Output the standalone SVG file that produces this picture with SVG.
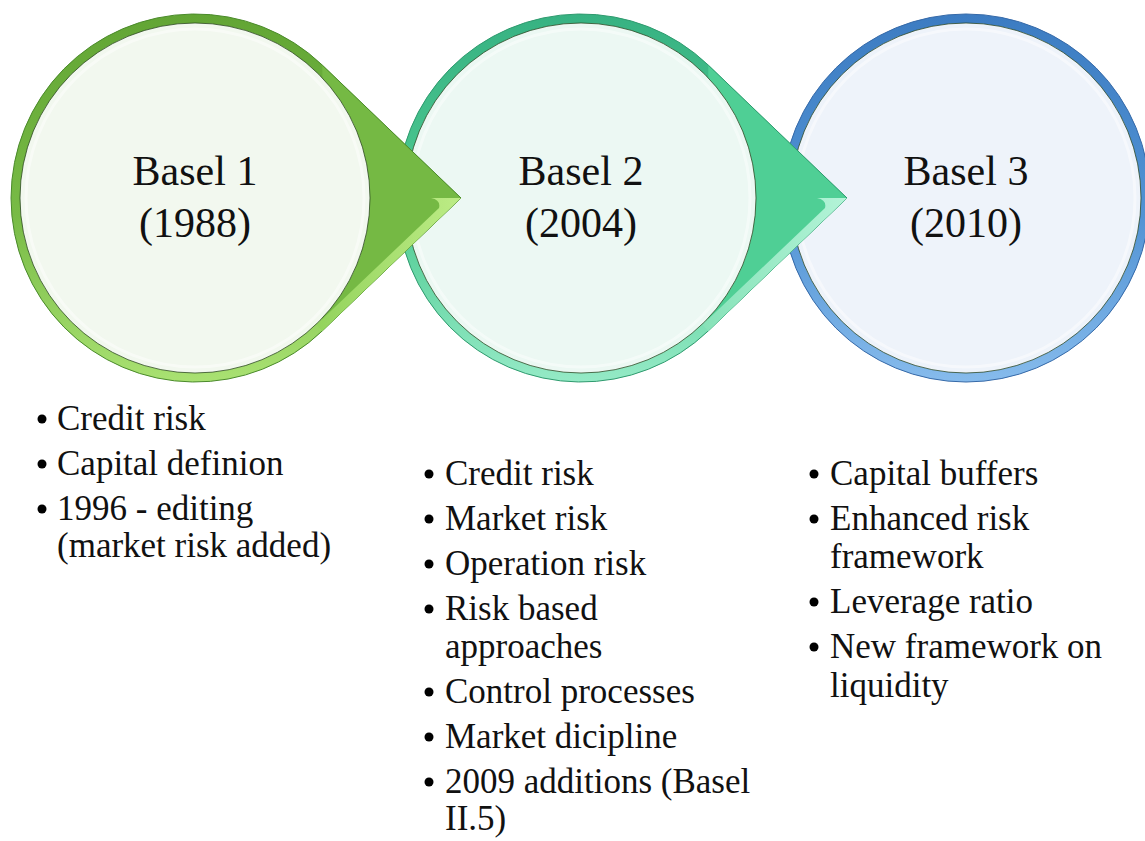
<svg xmlns="http://www.w3.org/2000/svg" width="1145" height="841" viewBox="0 0 1145 841">
<defs>
<linearGradient id="ring1" x1="0" y1="0" x2="0" y2="1"><stop offset="0" stop-color="#62a534"/><stop offset="0.55" stop-color="#78bb46"/><stop offset="1" stop-color="#a9e172"/></linearGradient>
<linearGradient id="ring2" x1="0" y1="0" x2="0" y2="1"><stop offset="0" stop-color="#37b282"/><stop offset="0.55" stop-color="#4fcb93"/><stop offset="1" stop-color="#95eac6"/></linearGradient>
<linearGradient id="ring3" x1="0" y1="0" x2="0" y2="1"><stop offset="0" stop-color="#3c7cc2"/><stop offset="0.55" stop-color="#5293d4"/><stop offset="1" stop-color="#86bbec"/></linearGradient>
<linearGradient id="bev1" x1="0" y1="0" x2="1" y2="0"><stop offset="0" stop-color="#93d35c"/><stop offset="1" stop-color="#bdec86"/></linearGradient>
<linearGradient id="bev2" x1="0" y1="0" x2="1" y2="0"><stop offset="0" stop-color="#86e2b8"/><stop offset="1" stop-color="#b4f4d8"/></linearGradient>
</defs>
<style>
.t{font-family:"Liberation Serif","Times New Roman",serif;fill:#111}
.title{font-size:42px;text-anchor:middle}
.b{font-size:35px}
.inner{stroke:#24401a;stroke-opacity:0.75;stroke-width:1}
.hl{fill:none;stroke:#ffffff;stroke-opacity:0.45;stroke-width:3}
.dot{fill:#000}
</style>

<g id="node-basel3">
<circle cx="966" cy="198" r="184" fill="url(#ring3)" stroke="#3569a8" stroke-width="1"/>
<circle class="inner" cx="966" cy="198" r="175" fill="#eef3fa"/>
<circle class="hl" cx="966" cy="198" r="169"/>
<text class="t title" x="966" y="185">Basel 3</text>
<text class="t title" x="966" y="237">(2010)</text>
</g>

<g id="node-basel2">
<path d="M847 198 L708.3 65.1 A184 184 0 1 0 708.3 330.9 Z" fill="url(#ring2)"/>
<polygon points="847,198 708.3,65.1 708.3,330.9" fill="#4fcf95"/>
<path d="M847 198 L708.3 65.1 A184 184 0 1 0 708.3 330.9 Z" fill="none" stroke="#2e9a6e" stroke-width="1"/>
<path d="M847 198 L817 198 Q827 200 825 208 L702.4 324.7 L708.3 330.9 Z" fill="url(#bev2)"/>
<circle class="inner" cx="581" cy="198" r="175" fill="#ecf8f3"/>
<circle class="hl" cx="581" cy="198" r="169"/>
<text class="t title" x="581" y="185">Basel 2</text>
<text class="t title" x="581" y="237">(2004)</text>
</g>

<g id="node-basel1">
<path d="M461 198 L322.3 65.1 A184 184 0 1 0 322.3 330.9 Z" fill="url(#ring1)"/>
<polygon points="461,198 322.3,65.1 322.3,330.9" fill="#75b944"/>
<path d="M461 198 L322.3 65.1 A184 184 0 1 0 322.3 330.9 Z" fill="none" stroke="#4a8a2a" stroke-width="1"/>
<path d="M461 198 L431 198 Q441 200 439 208 L316.4 324.7 L322.3 330.9 Z" fill="url(#bev1)"/>
<circle class="inner" cx="195" cy="198" r="175" fill="#f2f8ef"/>
<circle class="hl" cx="195" cy="198" r="169"/>
<text class="t title" x="195" y="185">Basel 1</text>
<text class="t title" x="195" y="237">(1988)</text>
</g>

<g id="list-basel1">
<circle class="dot" cx="42" cy="419" r="4.5"/>
<text class="t b" x="57" y="430">Credit risk</text>
<circle class="dot" cx="42" cy="464" r="4.5"/>
<text class="t b" x="57" y="475">Capital definion</text>
<circle class="dot" cx="42" cy="509" r="4.5"/>
<text class="t b" x="57" y="520">1996 - editing</text>
<text class="t b" x="57" y="557">(market risk added)</text>
</g>

<g id="list-basel2">
<circle class="dot" cx="429" cy="474" r="4.5"/>
<text class="t b" x="445" y="485">Credit risk</text>
<circle class="dot" cx="429" cy="519" r="4.5"/>
<text class="t b" x="445" y="530">Market risk</text>
<circle class="dot" cx="429" cy="564" r="4.5"/>
<text class="t b" x="445" y="575">Operation risk</text>
<circle class="dot" cx="429" cy="609" r="4.5"/>
<text class="t b" x="445" y="620">Risk based</text>
<text class="t b" x="445" y="658">approaches</text>
<circle class="dot" cx="429" cy="692" r="4.5"/>
<text class="t b" x="445" y="703">Control processes</text>
<circle class="dot" cx="429" cy="737" r="4.5"/>
<text class="t b" x="445" y="748">Market dicipline</text>
<circle class="dot" cx="429" cy="782" r="4.5"/>
<text class="t b" x="445" y="793">2009 additions (Basel</text>
<text class="t b" x="445" y="830">II.5)</text>
</g>

<g id="list-basel3">
<circle class="dot" cx="814" cy="474" r="4.5"/>
<text class="t b" x="830" y="485">Capital buffers</text>
<circle class="dot" cx="814" cy="519" r="4.5"/>
<text class="t b" x="830" y="530">Enhanced risk</text>
<text class="t b" x="830" y="568">framework</text>
<circle class="dot" cx="814" cy="602" r="4.5"/>
<text class="t b" x="830" y="613">Leverage ratio</text>
<circle class="dot" cx="814" cy="647" r="4.5"/>
<text class="t b" x="830" y="658">New framework on</text>
<text class="t b" x="830" y="697">liquidity</text>
</g>
</svg>
